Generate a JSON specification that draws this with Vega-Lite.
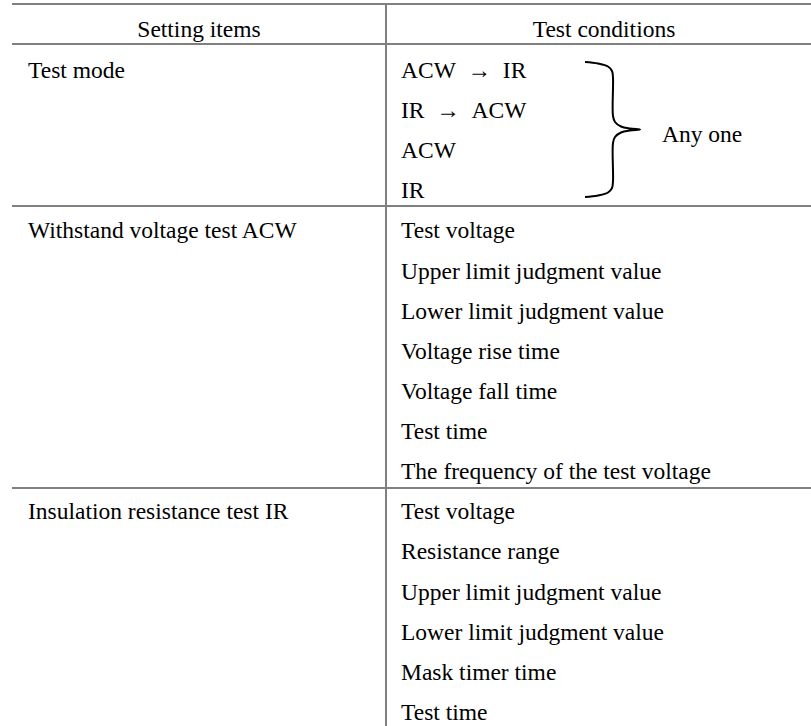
{
  "$schema": "https://vega.github.io/schema/vega-lite/v6.json",
  "width": 811,
  "height": 726,
  "autosize": {"type": "none"},
  "padding": 0,
  "background": "white",
  "config": {"view": {"stroke": null}},
  "datasets": {
    "cells": [
      {"col": 0, "row": 0, "label": "Test mode"},
      {"col": 0, "row": 4, "label": "Withstand voltage test ACW"},
      {"col": 0, "row": 11, "label": "Insulation resistance test IR"},
      {"col": 1, "row": 0, "label": "ACW\u00a0\u00a0→\u00a0\u00a0IR"},
      {"col": 1, "row": 1, "label": "IR\u00a0\u00a0→\u00a0\u00a0ACW"},
      {"col": 1, "row": 2, "label": "ACW"},
      {"col": 1, "row": 3, "label": "IR"},
      {"col": 2, "row": 1.6, "label": "Any one"},
      {"col": 1, "row": 4, "label": "Test voltage"},
      {"col": 1, "row": 5, "label": "Upper limit judgment value"},
      {"col": 1, "row": 6, "label": "Lower limit judgment value"},
      {"col": 1, "row": 7, "label": "Voltage rise time"},
      {"col": 1, "row": 8, "label": "Voltage fall time"},
      {"col": 1, "row": 9, "label": "Test time"},
      {"col": 1, "row": 10, "label": "The frequency of the test voltage"},
      {"col": 1, "row": 11, "label": "Test voltage"},
      {"col": 1, "row": 12, "label": "Resistance range"},
      {"col": 1, "row": 13, "label": "Upper limit judgment value"},
      {"col": 1, "row": 14, "label": "Lower limit judgment value"},
      {"col": 1, "row": 15, "label": "Mask timer time"},
      {"col": 1, "row": 16, "label": "Test time"}
    ],
    "headers": [
      {"col": 0, "row": -1.02, "label": "Setting items"},
      {"col": 1, "row": -1.02, "label": "Test conditions"}
    ],
    "lines": [
      {"x": 12, "x2": 811, "y": -1.844, "y2": -1.844},
      {"x": 12, "x2": 811, "y": -0.847, "y2": -0.847},
      {"x": 12, "x2": 811, "y": 3.19, "y2": 3.19},
      {"x": 12, "x2": 811, "y": 10.22, "y2": 10.22},
      {"x": 386, "x2": 386, "y": -1.844, "y2": 16.15}
    ],
    "brace": [
      {"i": 0, "bx": 585, "by": -0.399},
      {"i": 1, "bx": 598, "by": -0.361},
      {"i": 2, "bx": 608, "by": -0.287},
      {"i": 3, "bx": 612, "by": -0.174},
      {"i": 4, "bx": 613, "by": 0},
      {"i": 5, "bx": 613, "by": 0.947},
      {"i": 6, "bx": 615, "by": 1.097},
      {"i": 7, "bx": 621, "by": 1.209},
      {"i": 8, "bx": 630, "by": 1.259},
      {"i": 9, "bx": 640, "by": 1.283},
      {"i": 10, "bx": 630, "by": 1.308},
      {"i": 11, "bx": 621, "by": 1.358},
      {"i": 12, "bx": 615, "by": 1.47},
      {"i": 13, "bx": 613, "by": 1.62},
      {"i": 14, "bx": 613, "by": 2.567},
      {"i": 15, "bx": 612, "by": 2.741},
      {"i": 16, "bx": 608, "by": 2.854},
      {"i": 17, "bx": 598, "by": 2.928},
      {"i": 18, "bx": 585, "by": 2.966}
    ]
  },
  "resolve": {"scale": {"x": "independent"}},
  "layer": [
    {
      "data": {"name": "lines"},
      "mark": {"type": "rule", "stroke": "#808080", "strokeWidth": 2},
      "encoding": {
        "x": {"field": "x", "type": "quantitative", "scale": {"domain": [0, 811], "nice": false, "zero": false}, "axis": null},
        "x2": {"field": "x2"},
        "y": {"field": "y", "type": "quantitative", "scale": {"domain": [-1.944, 16.15], "reverse": true, "nice": false, "zero": false}, "axis": null},
        "y2": {"field": "y2"}
      }
    },
    {
      "data": {"name": "brace"},
      "mark": {"type": "line", "interpolate": "catmull-rom", "stroke": "#000000", "strokeWidth": 2},
      "encoding": {
        "x": {"field": "bx", "type": "quantitative", "scale": {"domain": [0, 811], "nice": false, "zero": false}, "axis": null},
        "y": {"field": "by", "type": "quantitative", "axis": null},
        "order": {"field": "i", "type": "quantitative"}
      }
    },
    {
      "data": {"name": "cells"},
      "mark": {"type": "text", "align": "left", "baseline": "alphabetic", "font": "Liberation Serif", "fontSize": 23.5, "color": "#000000"},
      "encoding": {
        "x": {"field": "col", "type": "quantitative", "scale": {"domain": [0, 1, 2], "range": [28, 401, 662], "nice": false, "zero": false}, "axis": null},
        "y": {"field": "row", "type": "quantitative", "axis": null},
        "text": {"field": "label", "type": "nominal"}
      }
    },
    {
      "data": {"name": "headers"},
      "mark": {"type": "text", "align": "center", "baseline": "alphabetic", "font": "Liberation Serif", "fontSize": 23.5, "color": "#000000"},
      "encoding": {
        "x": {"field": "col", "type": "quantitative", "scale": {"domain": [0, 1], "range": [199, 604], "nice": false, "zero": false}, "axis": null},
        "y": {"field": "row", "type": "quantitative", "axis": null},
        "text": {"field": "label", "type": "nominal"}
      }
    }
  ]
}
